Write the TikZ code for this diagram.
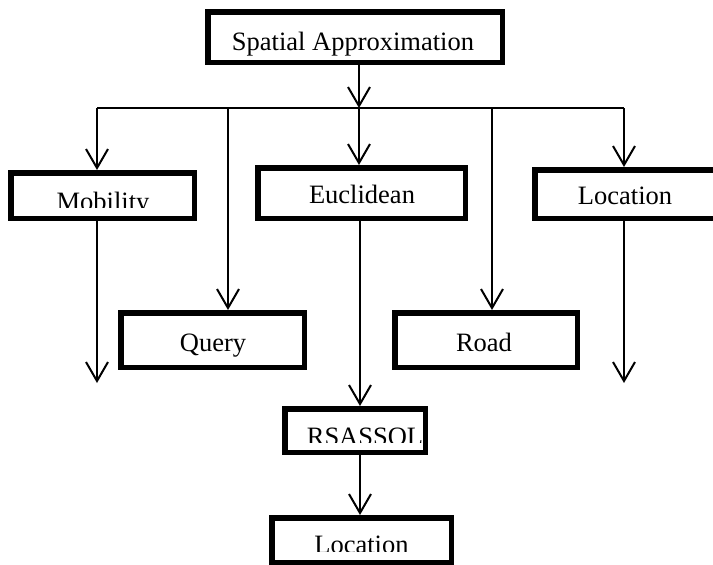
\documentclass[tikz,border=0pt]{standalone}
\usepackage{fontspec}
\setmainfont{Liberation Serif}
\usetikzlibrary{arrows.meta}
\begin{document}
\begin{tikzpicture}[x=1pt,y=-1pt,
  box/.style={draw=black,line width=5.5pt,rectangle,inner sep=0pt,fill=white},
  lbl/.style={inner sep=0pt,anchor=base,font=\fontsize{26.5}{30}\selectfont},
  conn/.style={draw=black,line width=2pt},
  arr/.style={conn,-{Straight Barb[length=19pt,width=22pt]}}]
\useasboundingbox (0,0) rectangle (713,565);
% boxes
\node[box,minimum width=294.5pt,minimum height=50.5pt] (top) at (355,37) {};
\node[box,minimum width=183.5pt,minimum height=45.5pt] (mob) at (102.5,195.5) {};
\node[box,minimum width=207.5pt,minimum height=50.5pt] (euc) at (361.5,193) {};
\node[box,minimum width=202.5pt,minimum height=48.5pt] (locr) at (636,194) {};
\node[box,minimum width=183.5pt,minimum height=54.5pt] (qry) at (212.5,340) {};
\node[box,minimum width=182.5pt,minimum height=54.5pt] (road) at (486,340) {};
\node[box,minimum width=140.5pt,minimum height=43.5pt] (rs) at (355,430.5) {};
\node[box,minimum width=179.5pt,minimum height=44.5pt] (locb) at (361.5,540) {};
% labels
\node[lbl] (ttop) at (353,50) {Spatial Approximation};
\node[lbl] (teuc) at (362,203) {Euclidean};
\node[lbl] (tlocr) at (625,204) {Location};
\node[lbl] (tqry) at (213,351) {Query};
\node[lbl] (troad) at (484,351) {Road};
\begin{scope}
  \clip (0,150) rectangle (713,207);
  \node[lbl] (tmob) at (103,210.5) {Mobility};
\end{scope}
\begin{scope}
  \clip (0,400) rectangle (713,442);
  \node[lbl] (trs) at (365,445.5) {RSASSOL};
\end{scope}
\begin{scope}
  \clip (0,520) rectangle (713,551);
  \node[lbl] (tlocb) at (361.5,553) {Location};
\end{scope}
% bus coordinates
\coordinate (b1) at (97,108);
\coordinate (b2) at (228,108);
\coordinate (b3) at (359,108);
\coordinate (b4) at (492,108);
\coordinate (b5) at (624,108);
\coordinate (ex) at (360,300);
\coordinate (mend) at (97,383);
\coordinate (lend) at (624,383);
% connectors
\draw[conn] (b1) -- (b5);
\draw[arr] (top.south -| b3) -- (b3);
\draw[arr] (b1) -- (b1 |- mob.north);
\draw[arr] (b2) -- (b2 |- qry.north);
\draw[arr] (b3) -- (b3 |- euc.north);
\draw[arr] (b4) -- (b4 |- road.north);
\draw[arr] (b5) -- (b5 |- locr.north);
\draw[arr] (mob.south -| b1) -- (mend);
\draw[arr] (locr.south -| b5) -- (lend);
\draw[arr] (euc.south -| ex) -- (rs.north -| ex);
\draw[arr] (rs.south -| ex) -- (locb.north -| ex);
\end{tikzpicture}
\end{document}
